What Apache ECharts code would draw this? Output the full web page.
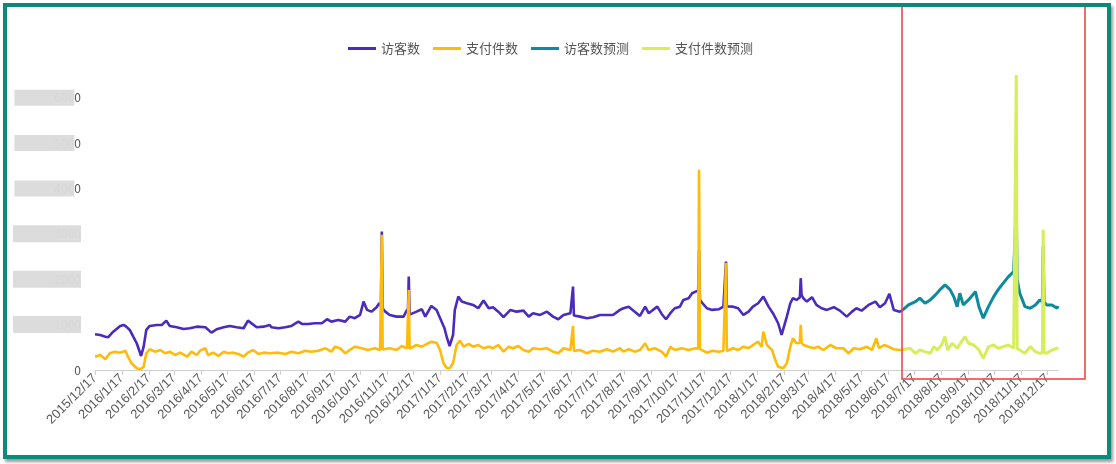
<!DOCTYPE html>
<html>
<head>
<meta charset="utf-8">
<script src="https://cdn.jsdelivr.net/npm/echarts@6/dist/echarts.min.js"></script>
<style>
  html, body { margin: 0; padding: 0; background: #fff; }
  #chart { width: 1116px; height: 464px; }
  /* 外框 */
  #frame {
    position: absolute; left: 3px; top: 3px; width: 1100px; height: 448px;
    border: 4px solid #0a8a79; box-shadow: 2px 3px 3px #9a9a9a; pointer-events: none;
  }
</style>
</head>
<body>
<div id="chart"></div>
<div id="frame"></div>
<script>
// 日期类目：2015/12/17 起逐日
const startYear = 2015, startMonth = 12, startDay = 17;
const dayCount = 1109;
const dates = [];
for (let i = 0; i < dayCount; i++) {
  const d = new Date(startYear, startMonth - 1, startDay + i);
  dates.push(d.getFullYear() + '/' + (d.getMonth() + 1) + '/' + d.getDate());
}

const legendNames = ['访客数', '支付件数', '访客数预测', '支付件数预测'];

// [第几天, 数值]
const visitors = [
  [0, 788], [6, 772], [12, 735], [15, 721], [21, 845], [29, 971], [33, 993], [36, 955],
  [40, 882], [44, 735], [48, 589], [52, 368], [53, 309], [56, 514], [59, 882], [63, 971],
  [71, 993], [77, 993], [82, 1088], [86, 971], [94, 942], [102, 904], [109, 920], [117, 955],
  [127, 942], [134, 823], [140, 898], [148, 942], [155, 971], [163, 942], [171, 920], [176, 1088],
  [186, 942], [194, 955], [201, 993], [203, 942], [211, 920], [219, 942], [226, 971], [234, 1066],
  [238, 1015], [245, 1015], [253, 1030], [261, 1030], [267, 1118], [272, 1066], [280, 1103], [288, 1066],
  [293, 1176], [299, 1141], [305, 1213], [309, 1507], [313, 1324], [318, 1286], [324, 1383], [327, 1471],
  [329, 1400], [330, 3051], [331, 1350], [334, 1286], [339, 1213], [347, 1176], [355, 1176], [359, 1324],
  [360, 1250], [361, 2058], [362, 1220], [364, 1213], [370, 1286], [376, 1339], [380, 1176], [387, 1412],
  [393, 1324], [397, 1147], [402, 927], [405, 706], [408, 529], [412, 772], [414, 1324], [418, 1617],
  [422, 1507], [428, 1471], [435, 1434], [441, 1361], [447, 1529], [453, 1361], [458, 1383], [464, 1286],
  [470, 1163], [478, 1324], [485, 1286], [493, 1308], [499, 1176], [504, 1251], [512, 1213], [520, 1286],
  [527, 1176], [533, 1118], [539, 1213], [547, 1251], [549, 1240], [550, 1838], [551, 1200], [553, 1176],
  [558, 1176], [566, 1141], [573, 1163], [581, 1213], [589, 1213], [596, 1213], [604, 1324], [608, 1361],
  [614, 1396], [621, 1286], [627, 1191], [633, 1396], [637, 1251], [642, 1324], [647, 1396], [652, 1235],
  [657, 1118], [662, 1251], [667, 1361], [673, 1396], [677, 1544], [683, 1582], [687, 1692], [691, 1727],
  [694, 1750], [695, 2647], [696, 1550], [699, 1471], [704, 1361], [710, 1324], [718, 1339], [723, 1396],
  [725, 1400], [726, 2389], [727, 1400], [729, 1396], [734, 1396], [740, 1361], [746, 1213], [752, 1286],
  [757, 1396], [763, 1471], [769, 1617], [775, 1396], [780, 1251], [786, 1030], [790, 772], [792, 772],
  [796, 1176], [800, 1471], [803, 1582], [807, 1544], [811, 1600], [812, 2023], [813, 1650], [815, 1582],
  [819, 1507], [825, 1604], [830, 1434], [836, 1361], [842, 1324], [850, 1383], [857, 1308], [865, 1176],
  [871, 1286], [876, 1361], [882, 1308], [890, 1434], [898, 1507], [903, 1383], [909, 1471], [914, 1677],
  [919, 1324], [926, 1286], [928, 1302]
];

const payments = [
  [0, 293], [6, 331], [12, 236], [17, 368], [23, 404], [29, 382], [35, 426], [38, 293],
  [42, 148], [48, 38], [52, 15], [56, 73], [59, 368], [63, 457], [69, 404], [75, 441],
  [81, 368], [86, 404], [92, 331], [98, 382], [106, 293], [111, 404], [117, 331], [121, 426],
  [127, 479], [130, 331], [136, 382], [142, 309], [148, 404], [153, 368], [159, 382], [165, 353],
  [171, 293], [176, 382], [182, 441], [188, 353], [194, 382], [201, 368], [203, 331], [211, 382],
  [219, 353], [226, 404], [234, 368], [242, 426], [249, 404], [257, 426], [265, 479], [272, 404],
  [276, 514], [282, 479], [288, 368], [293, 441], [299, 514], [307, 479], [314, 441], [322, 479],
  [328, 441], [329, 450], [330, 2978], [331, 450], [332, 441], [339, 479], [347, 441], [353, 529],
  [359, 479], [360, 470], [361, 1765], [362, 470], [364, 479], [370, 551], [376, 514], [382, 574],
  [387, 624], [393, 602], [397, 441], [401, 148], [405, 38], [408, 38], [412, 148], [416, 551],
  [420, 646], [424, 514], [430, 574], [435, 514], [441, 551], [447, 479], [453, 514], [458, 479],
  [464, 551], [470, 404], [476, 514], [481, 479], [487, 529], [493, 441], [499, 404], [504, 479],
  [512, 457], [520, 479], [527, 404], [533, 368], [539, 479], [547, 441], [549, 430], [550, 971],
  [551, 420], [553, 404], [558, 441], [566, 368], [573, 426], [581, 404], [589, 457], [596, 404],
  [604, 479], [608, 404], [614, 457], [621, 404], [627, 441], [633, 589], [637, 441], [644, 479],
  [652, 404], [657, 293], [662, 514], [667, 441], [675, 479], [683, 441], [691, 479], [694, 470],
  [695, 4412], [696, 460], [698, 441], [704, 382], [710, 426], [718, 404], [723, 426], [725, 420],
  [726, 2360], [727, 420], [729, 404], [734, 479], [740, 441], [746, 514], [752, 479], [757, 551],
  [763, 624], [767, 514], [769, 845], [773, 551], [779, 441], [782, 258], [786, 73], [792, 38],
  [796, 148], [800, 514], [803, 699], [807, 589], [811, 600], [812, 993], [813, 600], [815, 551],
  [821, 514], [827, 479], [832, 514], [838, 441], [846, 551], [853, 479], [861, 479], [867, 368],
  [873, 479], [880, 457], [888, 514], [894, 441], [899, 699], [902, 479], [908, 551], [913, 514],
  [919, 457], [926, 441], [928, 441]
];

const visitorsForecast = [
  [928, 1302], [936, 1434], [944, 1507], [949, 1582], [955, 1471], [961, 1544], [967, 1655], [972, 1765],
  [978, 1875], [984, 1765], [988, 1617], [992, 1396], [995, 1692], [999, 1434], [1005, 1544], [1013, 1727],
  [1017, 1396], [1022, 1141], [1028, 1396], [1034, 1617], [1039, 1765], [1045, 1913], [1051, 2058], [1057, 2168],
  [1059, 2200], [1060, 3684], [1061, 2000], [1064, 1692], [1070, 1396], [1076, 1361], [1082, 1434], [1087, 1544],
  [1090, 1500], [1091, 2720], [1092, 1500], [1095, 1434], [1101, 1434], [1107, 1361], [1108, 1412]
];

const paymentsForecast = [
  [928, 441], [938, 479], [944, 368], [949, 441], [955, 404], [961, 368], [965, 514], [969, 441],
  [974, 551], [978, 735], [981, 441], [986, 589], [992, 479], [997, 624], [1001, 735], [1005, 589],
  [1011, 551], [1017, 441], [1022, 258], [1028, 514], [1034, 551], [1039, 479], [1045, 514], [1051, 551],
  [1057, 479], [1059, 470], [1060, 6500], [1061, 470], [1064, 441], [1070, 368], [1076, 514], [1082, 404],
  [1087, 368], [1090, 380], [1091, 3088], [1092, 380], [1095, 368], [1101, 441], [1107, 479], [1108, 457]
];

const colors = ['#4a2bbd', '#ffbb0a', '#0d8a9b', '#d6ee5c'];

const chart = echarts.init(document.getElementById('chart'));

const isMonthTick = (idx, val) => val.split('/')[2] === '17';

const option = {
  animation: false,
  color: colors,
  textStyle: { fontFamily: '"Noto Sans CJK SC", "Noto Sans", sans-serif' },
  legend: {
    data: legendNames,
    left: 343,
    top: 37,
    icon: 'rect',
    itemWidth: 28,
    itemHeight: 3,
    itemGap: 13,
    textStyle: { fontSize: 13, color: '#555' }
  },
  grid: { left: 95, right: 58, top: 75, bottom: 94 },
  xAxis: {
    type: 'category',
    data: dates,
    boundaryGap: false,
    axisLine: { lineStyle: { color: '#cfcfcf' } },
    axisTick: { interval: isMonthTick, lineStyle: { color: '#cfcfcf' } },
    axisLabel: {
      interval: isMonthTick,
      rotate: 45,
      fontSize: 13,
      color: '#5a5a5a',
      margin: 6,
      fontFamily: 'Arial, "Liberation Sans", sans-serif'
    },
    splitLine: { show: false }
  },
  yAxis: {
    type: 'value',
    min: 0,
    max: 6500,
    interval: 1000,
    splitLine: { show: false },
    axisLine: { show: false },
    axisTick: { show: false },
    axisLabel: {
      showMaxLabel: false,
      margin: 14,
      color: '#555',
      fontSize: 12,
      formatter: v => {
        if (v === 0) return '0';
        const s = String(v);
        // 原图纵轴数字被打码
        if (v >= 4000) return '{blur|' + s.slice(0, -1) + '}' + s.slice(-1);
        return '{blur2|' + s + '}';
      },
      rich: {
        blur: { backgroundColor: '#dcdcdc', color: '#d7d7d7', width: 60, height: 16, align: 'right' },
        blur2: { backgroundColor: '#dcdcdc', color: '#d7d7d7', width: 68, height: 17, align: 'right' }
      }
    }
  },
  graphic: [{
    type: 'rect',
    shape: { x: 902, y: 4, width: 183, height: 375 },
    style: { fill: 'none', stroke: '#f23b3b', lineWidth: 1.5 },
    z: 100
  }],
  series: [
    { name: legendNames[0], type: 'line', data: visitors, showSymbol: false, symbol: 'none',
      lineStyle: { width: 2.6 } },
    { name: legendNames[1], type: 'line', data: payments, showSymbol: false, symbol: 'none',
      lineStyle: { width: 2.6 } },
    { name: legendNames[2], type: 'line', data: visitorsForecast, showSymbol: false, symbol: 'none',
      lineStyle: { width: 3 } },
    { name: legendNames[3], type: 'line', data: paymentsForecast, showSymbol: false, symbol: 'none',
      lineStyle: { width: 3 } }
  ]
};

chart.setOption(option);
</script>
</body>
</html>
